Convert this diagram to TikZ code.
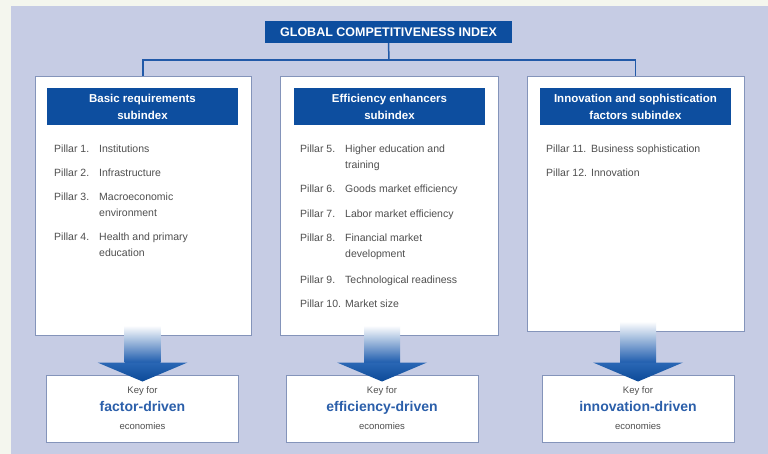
\documentclass[tikz,border=0pt]{standalone}
\usepackage{fontspec}
\setmainfont{Liberation Sans}
\usetikzlibrary{calc,positioning}

\definecolor{paper}{HTML}{F4F6EE}
\definecolor{lavender}{HTML}{C6CCE4}
\definecolor{gcblue}{HTML}{0D4E9F}
\definecolor{linkblue}{HTML}{2159A8}
\definecolor{frame}{HTML}{8494BA}
\definecolor{pillgray}{HTML}{4F4F4F}
\definecolor{keyblue}{HTML}{2B5FAA}
\definecolor{shaftblue}{HTML}{1F5DAE}
\definecolor{headtop}{HTML}{2A67B5}
\definecolor{headbot}{HTML}{0C4A98}

\newcommand{\pillar}[1]{\makebox[45pt][l]{Pillar #1}}
\newcommand{\keyarrow}[2]{%
  \shade[top color=white, bottom color=shaftblue]
    ($(#2.north |- #1.south)+(-18,-10)$) rectangle ($(#2.north)+(18,-12)$);
  \shade[top color=headtop, bottom color=headbot]
    ($(#2.north)+(-45,-12)$) -- ($(#2.north)+(45,-12)$) -- ($(#2.north)+(0,7)$) -- cycle;}

\tikzset{
  titlebox/.style={fill=gcblue, text=white, font=\fontsize{12.5}{14}\selectfont\bfseries,
    minimum width=247pt, minimum height=22pt, inner sep=0pt},
  panel/.style={draw=frame, line width=1pt, fill=white, minimum width=216pt, inner sep=0pt},
  header/.style={fill=gcblue, text=white, font=\fontsize{11.5}{17}\selectfont\bfseries,
    align=center, minimum width=191pt, minimum height=37pt, inner sep=0pt},
  pillars/.style={text=pillgray, font=\fontsize{10.5}{16}\selectfont, align=left,
    inner sep=0pt, anchor=north west},
  keybox/.style={draw=frame, line width=1pt, fill=white, text=pillgray,
    font=\fontsize{9.5}{18}\selectfont, align=center, minimum width=192pt,
    minimum height=67pt, inner sep=0pt},
  link/.style={draw=linkblue, line width=1.5pt},
}

\begin{document}
\begin{tikzpicture}[x=1pt,y=-1pt]
\useasboundingbox (0,0) rectangle (768,454);
\fill[paper] (0,0) rectangle (768,454);
\fill[lavender] (11,6) rectangle (768,454);

% index and the three subindexes
\node[titlebox] (gci) at (388.5,32) {GLOBAL COMPETITIVENESS INDEX};
\coordinate (hub) at (389,60);
\draw[link] (gci.south) -- (hub);
\draw[link] (hub) -| (143,77);
\draw[link] (hub) -| (635.5,77);

\node[panel, minimum height=258pt] (basic) at (143,206) {};
\node[panel, minimum width=218pt, minimum height=258pt] (effic) at (389,206) {};
\node[panel, minimum width=217pt, minimum height=254pt] (innov) at (635.5,204) {};

\node[header] (basichd) at (142.5,106.5) {Basic requirements\\subindex};
\node[header] (effichd) at (389.5,106.5) {Efficiency enhancers\\subindex};
\node[header] (innovhd) at (635.5,106.5) {Innovation and sophistication\\factors subindex};

\node[pillars] (basiclist) at (54,144.5) {%
  \pillar{1.}Institutions\\[8pt]
  \pillar{2.}Infrastructure\\[8pt]
  \pillar{3.}Macroeconomic\\ \hspace*{45pt}environment\\[8pt]
  \pillar{4.}Health and primary\\ \hspace*{45pt}education};
\node[pillars] (efficlist) at (300,144.5) {%
  \pillar{5.}Higher education and\\ \hspace*{45pt}training\\[8pt]
  \pillar{6.}Goods market efficiency\\[9pt]
  \pillar{7.}Labor market efficiency\\[8pt]
  \pillar{8.}Financial market\\ \hspace*{45pt}development\\[10pt]
  \pillar{9.}Technological readiness\\[8pt]
  \pillar{10.}Market size};
\node[pillars] (innovlist) at (546,144.5) {%
  \pillar{11.}Business sophistication\\[8pt]
  \pillar{12.}Innovation};

% stages of development
\node[keybox] (keyA) at (142.5,408.5) {Key for\\{\fontsize{14}{18}\selectfont\bfseries\color{keyblue}factor-driven}\\economies};
\node[keybox] (keyB) at (382,408.5) {Key for\\{\fontsize{14}{18}\selectfont\bfseries\color{keyblue}efficiency-driven}\\economies};
\node[keybox] (keyC) at (638,408.5) {Key for\\{\fontsize{14}{18}\selectfont\bfseries\color{keyblue}innovation-driven}\\economies};

\keyarrow{basic}{keyA}
\keyarrow{effic}{keyB}
\keyarrow{innov}{keyC}
\end{tikzpicture}
\end{document}
